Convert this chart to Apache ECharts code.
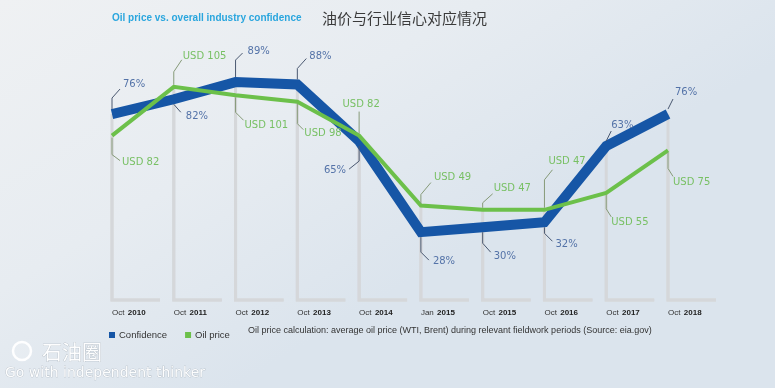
<!DOCTYPE html>
<html><head><meta charset="utf-8">
<script src="https://cdn.jsdelivr.net/npm/echarts@6/dist/echarts.min.js"></script>
<style>html,body{margin:0;padding:0;}#c{width:775px;height:388px;}</style>
</head><body><div id="c"></div>
<script>
// ---- data ----
const categories = ['Oct 2010','Oct 2011','Oct 2012','Oct 2013','Oct 2014','Jan 2015','Oct 2015','Oct 2016','Oct 2017','Oct 2018'];
const confidence = [76, 82, 89, 88, 65, 28, 30, 32, 63, 76];
const oilPrice = [82, 105, 101, 98, 82, 49, 47, 47, 55, 75];
const seriesNames = ['Confidence', 'Oil price'];
const titleEn = 'Oil price vs. overall industry confidence';
const titleZh = '油价与行业信心对应情况';
const note = 'Oil price calculation: average oil price (WTI, Brent) during relevant fieldwork periods (Source: eia.gov)';

// ---- label leader layout (relative offsets: vertical, dx, dy, textDx, textDy, align) ----
const blueLeader = [
  [-16, 8, -9, 3, -5, 'left'],
  [5, 7, 8, 5, 4, 'left'],
  [-22, 7, -7, 5, -2, 'left'],
  [-16, 9, -10, 3, -2, 'left'],
  [20, -10, 8, -3, 1, 'right'],
  [20, 8, 8, 4, 1, 'left'],
  [16, 8, 9, 3, 4, 'left'],
  [11, 8, 8, 3, 3, 'left'],
  [-5, 5, -10, 0, -6, 'left'],
  [-5, 5, -10, 2, -7, 'left']
];
const greenLeader = [
  [19, 8, 6, 2, 2, 'left'],
  [-15, 8, -12, 1, -3, 'left'],
  [17, 8, 8, 1, 5, 'left'],
  [22, 6, 6, 1, 4, 'left'],
  [-24, 0, 0, 2, -7, 'center'],
  [-11, 10, -12, 3, -5, 'left'],
  [-7, 10, -9, 1, -5, 'left'],
  [-30, 8, -10, -4, -8, 'left'],
  [16, 5, 8, 0, 6, 'left'],
  [18, 5, 8, 0, 6, 'left']
];

const BLUE = '#1656a6', GREEN = '#6cc04a';
const SANS = '"Liberation Sans", Arial, sans-serif';
const chart = echarts.init(document.getElementById('c'));

function pillarRender(params, api) {
  const p = api.coord([api.value(0), api.value(1)]);
  const bottom = params.coordSys.y + params.coordSys.height - 1;
  return {
    type: 'polyline',
    shape: { points: [[p[0], p[1]], [p[0], bottom], [p[0] + 48, bottom]] },
    style: { stroke: '#d5d7da', lineWidth: 3, fill: null, lineJoin: 'miter' }
  };
}
function makeLabelRender(layout, half, lineColor, textColor, fmt) {
  return function (params, api) {
    const v = api.value(1);
    const p = api.coord([api.value(0), v]);
    const L = layout[params.dataIndex];
    const s = L[0] < 0 ? -1 : 1;
    const p0 = [p[0], p[1] + s * half];
    const p1 = [p[0], p[1] + L[0]];
    const p2 = [p1[0] + L[1], p1[1] + L[2]];
    return {
      type: 'group',
      children: [
        { type: 'polyline', shape: { points: [p0, p1, p2] }, style: { stroke: lineColor, lineWidth: 1, fill: null } },
        { type: 'text', x: p2[0] + L[3], y: p2[1] + L[4],
          style: { text: fmt(v), fill: textColor, font: '10px "DejaVu Sans"', align: L[5], verticalAlign: 'middle' } }
      ]
    };
  };
}

const option = {
  backgroundColor: {
    type: 'linear', x: 0, y: 0, x2: 0.3, y2: 1,
    colorStops: [{ offset: 0, color: '#eff1f3' }, { offset: 0.55, color: '#e7ecf1' }, { offset: 1, color: '#dbe4ed' }]
  },
  animation: false,
  legend: {
    data: seriesNames, left: 104, top: 325, icon: 'rect', itemWidth: 6, itemHeight: 6, itemGap: 18,
    textStyle: { fontSize: 9.5, color: '#333', fontFamily: SANS, padding: [0, 0, 0, -1] }
  },
  grid: { left: 112, right: 107, top: 55, bottom: 87 },
  xAxis: {
    type: 'category', data: categories, boundaryGap: false,
    axisLine: { show: false }, axisTick: { show: false }, splitLine: { show: false },
    axisLabel: {
      align: 'left', margin: 6, interval: 0,
      formatter: function (v) { const s = v.split(' '); return '{a|' + s[0] + '} {b|' + s[1] + '}'; },
      rich: {
        a: { fontSize: 8, color: '#333', fontFamily: SANS },
        b: { fontSize: 8, color: '#222', fontWeight: 'bold', fontFamily: SANS }
      }
    }
  },
  yAxis: [
    { type: 'value', min: 0, max: 100, show: false, splitLine: { show: false } },
    { type: 'value', min: 4, max: 120, show: false, splitLine: { show: false } }
  ],
  graphic: [
    { type: 'text', x: 112, y: 18, style: { text: titleEn, font: 'bold 10px ' + SANS, fill: '#2aa6de', verticalAlign: 'middle' } },
    { type: 'text', x: 322, y: 18, style: { text: titleZh, font: '15px "Noto Sans CJK SC"', fill: '#3a3a3a', verticalAlign: 'middle' } },
    { type: 'text', x: 248, y: 331, style: { text: note, font: '9px ' + SANS, fill: '#333', verticalAlign: 'middle' } },
    { type: 'circle', shape: { cx: 22, cy: 351, r: 9 }, style: { fill: 'rgba(255,255,255,0.15)', stroke: 'rgba(255,255,255,0.95)', lineWidth: 2.5 } },
    { type: 'text', x: 42, y: 352, style: { text: '石油圈', font: '20px "Noto Sans CJK SC"', fill: 'rgba(255,255,255,0.95)', stroke: 'rgba(140,150,160,0.6)', lineWidth: 0.6, verticalAlign: 'middle' } },
    { type: 'text', x: 5, y: 373, style: { text: 'Go with independent thinker', font: '14px "DejaVu Sans"', fill: 'rgba(255,255,255,0.95)', stroke: 'rgba(140,150,160,0.6)', lineWidth: 0.6, verticalAlign: 'middle' } }
  ],
  series: [
    { type: 'custom', renderItem: pillarRender, data: confidence.map((v, i) => [i, v]), yAxisIndex: 0, z: 1, silent: true },
    { type: 'custom', renderItem: pillarRender, data: oilPrice.map((v, i) => [i, v]), yAxisIndex: 1, z: 1, silent: true },
    { name: seriesNames[0], type: 'line', data: confidence, yAxisIndex: 0, symbol: 'none', z: 3,
      lineStyle: { color: BLUE, width: 10, join: 'miter' }, itemStyle: { color: BLUE } },
    { name: seriesNames[1], type: 'line', data: oilPrice, yAxisIndex: 1, symbol: 'none', z: 4,
      lineStyle: { color: GREEN, width: 4, join: 'miter' }, itemStyle: { color: GREEN } },
    { type: 'custom', yAxisIndex: 0, z: 5, silent: true, data: confidence.map((v, i) => [i, v]),
      renderItem: makeLabelRender(blueLeader, 5, '#4a5870', '#5473a8', v => v + '%') },
    { type: 'custom', yAxisIndex: 1, z: 5, silent: true, data: oilPrice.map((v, i) => [i, v]),
      renderItem: makeLabelRender(greenLeader, 2, '#869a78', '#78c064', v => 'USD ' + v) }
  ]
};
chart.setOption(option);
</script></body></html>
